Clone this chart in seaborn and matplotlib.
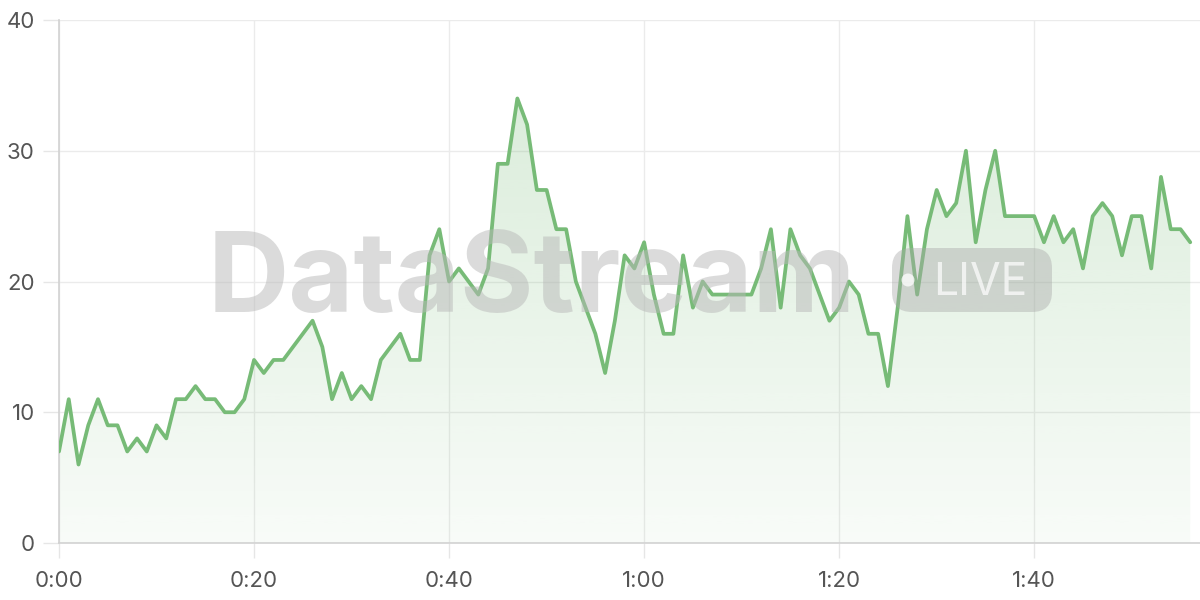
import numpy as np
import pandas as pd
import matplotlib
matplotlib.use("Agg")
import matplotlib.pyplot as plt
import seaborn as sns
from matplotlib.patches import FancyBboxPatch, Circle
from matplotlib.transforms import IdentityTransform

# ---- data ----
seconds = list(range(117))
values = [7, 11, 6, 9, 11, 9, 9, 7, 8, 7,
          9, 8, 11, 11, 12, 11, 11, 10, 10, 11,
          14, 13, 14, 14, 15, 16, 17, 15, 11, 13,
          11, 12, 11, 14, 15, 16, 14, 14, 22, 24,
          20, 21, 20, 19, 21, 29, 29, 34, 32, 27,
          27, 24, 24, 20, 18, 16, 13, 17, 22, 21,
          23, 19, 16, 16, 22, 18, 20, 19, 19, 19,
          19, 19, 21, 24, 18, 24, 22, 21, 19, 17,
          18, 20, 19, 16, 16, 12, 18, 25, 19, 24,
          27, 25, 26, 30, 23, 27, 30, 25, 25, 25,
          25, 23, 25, 23, 24, 21, 25, 26, 25, 22,
          25, 25, 21, 28, 24, 24, 23]
x_ticks = [0, 20, 40, 60, 80, 100]
x_tick_labels = ["0:00", "0:20", "0:40", "1:00", "1:20", "1:40"]
y_ticks = [0, 10, 20, 30, 40]
watermark = "DataStream"
badge = "LIVE"

df = pd.DataFrame({"t": seconds, "v": values})

LINE = "#77bb77"

sns.set_theme(style="white")
plt.rcParams["font.family"] = ["Inter", "DejaVu Sans"]

fig = plt.figure(figsize=(12, 6), dpi=100)
ax = fig.add_axes([59 / 1200, 57 / 600, 1 - 59 / 1200, (543 - 20) / 600])

ax.set_xlim(0, 117)
ax.set_ylim(0, 40)

# grid
ax.set_xticks(x_ticks)
ax.set_xticklabels(x_tick_labels)
ax.set_yticks(y_ticks)
ax.grid(True, color="#ebebeb", linewidth=1.0)
ax.set_axisbelow(True)

# gradient fill under the curve
poly = ax.fill_between(df["t"], df["v"], 0, color="none", linewidth=0, zorder=2)
grad = np.zeros((256, 1, 4))
rgb = matplotlib.colors.to_rgb(LINE)
grad[:, 0, 0:3] = rgb
grad[:, 0, 3] = np.linspace(0.05, 0.30, 256)  # bottom -> top
img = ax.imshow(grad, extent=[0, max(seconds), 0, 40], origin="lower",
                aspect="auto", zorder=2, interpolation="bilinear")
path = poly.get_paths()[0]
img.set_clip_path(path, transform=ax.transData)

# watermark
fig.text(208 / 1200, 1 - 312 / 600, watermark, fontsize=81, fontweight="bold",
         color="#b8b8b8", alpha=0.5, ha="left", va="baseline", zorder=3,
         family=["Inter", "DejaVu Sans"])
pill = FancyBboxPatch((892, 600 - 312), 160, 64,
                      boxstyle="round,pad=0,rounding_size=20",
                      transform=IdentityTransform(), facecolor="#a8a8a8",
                      edgecolor="none", alpha=0.42, zorder=3)
fig.patches.append(pill)
dot = Circle((908, 600 - 280), 6.5, transform=IdentityTransform(),
             facecolor="white", edgecolor="none", alpha=0.75, zorder=4)
fig.patches.append(dot)
fig.text(933 / 1200, 1 - 295 / 600, badge, fontsize=32, color="white",
         alpha=0.7, ha="left", va="baseline", zorder=4,
         family=["Inter", "DejaVu Sans"])

# line
sns.lineplot(data=df, x="t", y="v", ax=ax, color=LINE, linewidth=2.7, zorder=5)

ax.set_xlabel("")
ax.set_ylabel("")

for s in ["top", "right"]:
    ax.spines[s].set_visible(False)
for s in ["left", "bottom"]:
    ax.spines[s].set_color("#d2d2d2")
    ax.spines[s].set_linewidth(1.2)

ax.tick_params(axis="y", length=11.5, width=1, color="#e6e6e6", pad=6,
               labelsize=16, labelcolor="#555555", left=True)
ax.tick_params(axis="x", length=11, width=1, color="#e6e6e6", pad=9,
               labelsize=16, labelcolor="#555555", bottom=True)

fig.savefig("out.png", dpi=100)
